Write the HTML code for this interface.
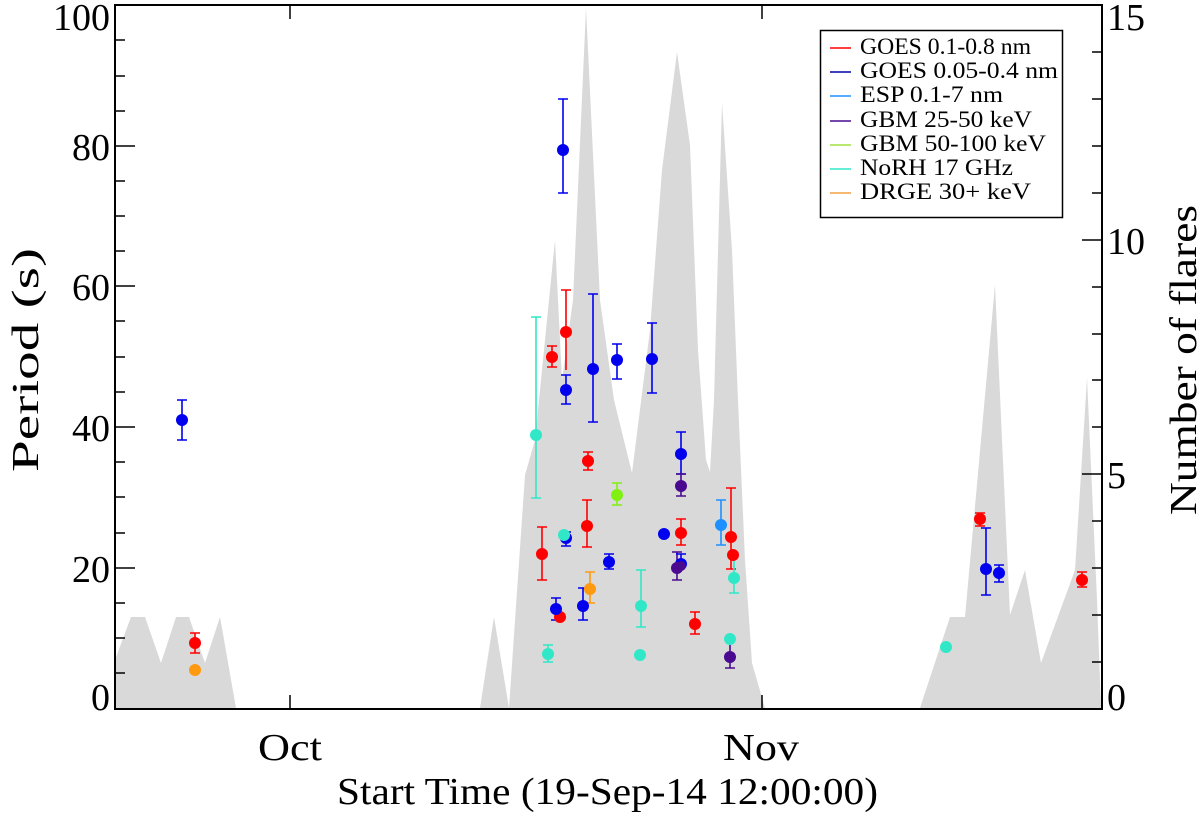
<!DOCTYPE html>
<html><head><meta charset="utf-8"><style>
html,body{margin:0;padding:0;background:#fff;}
svg{display:block;font-family:"Liberation Serif",serif;}
</style></head><body>
<svg width="1200" height="815" viewBox="0 0 1200 815" xmlns="http://www.w3.org/2000/svg">
<g fill="#d9d9d9" stroke="none">
<polygon points="115,708 115,660 131,617 145,617 161,663 176,617 189,617 205,663 220,617 236,708"/>
<polygon points="480,708 494,617 509,708"/>
<polygon points="509,708 525,475 535,440 555,240 562,380 573,300 586,8 600,300 614,400 632,473 650,330 662,170 677,52 690,145 698,350 706,460 710,472 714,400 722,103 732,250 738,400 745,560 752,663 765,708"/>
<polygon points="920,708 950,617 965,617 995,285 1010,615 1025,570 1041,663 1075,570 1087,378 1097,600 1101,708"/>
</g>
<g stroke="#000" stroke-width="2" fill="none">
<rect x="115" y="5" width="987" height="704"/>
</g>
<g stroke="#000" stroke-width="1.5">
<line x1="115" y1="5" x2="135" y2="5"/><line x1="115" y1="146" x2="135" y2="146"/><line x1="115" y1="286" x2="135" y2="286"/><line x1="115" y1="427" x2="135" y2="427"/><line x1="115" y1="568" x2="135" y2="568"/>
<line x1="115" y1="40" x2="125" y2="40"/><line x1="115" y1="76" x2="125" y2="76"/><line x1="115" y1="111" x2="125" y2="111"/>
<line x1="115" y1="181" x2="125" y2="181"/><line x1="115" y1="216" x2="125" y2="216"/><line x1="115" y1="251" x2="125" y2="251"/>
<line x1="115" y1="321" x2="125" y2="321"/><line x1="115" y1="357" x2="125" y2="357"/><line x1="115" y1="392" x2="125" y2="392"/>
<line x1="115" y1="462" x2="125" y2="462"/><line x1="115" y1="497" x2="125" y2="497"/><line x1="115" y1="533" x2="125" y2="533"/>
<line x1="115" y1="603" x2="125" y2="603"/><line x1="115" y1="638" x2="125" y2="638"/><line x1="115" y1="673" x2="125" y2="673"/>
<line x1="1082" y1="240" x2="1102" y2="240"/><line x1="1082" y1="474" x2="1102" y2="474"/>
<line x1="1092" y1="52" x2="1102" y2="52"/><line x1="1092" y1="99" x2="1102" y2="99"/><line x1="1092" y1="146" x2="1102" y2="146"/><line x1="1092" y1="193" x2="1102" y2="193"/>
<line x1="1092" y1="287" x2="1102" y2="287"/><line x1="1092" y1="334" x2="1102" y2="334"/><line x1="1092" y1="380" x2="1102" y2="380"/><line x1="1092" y1="427" x2="1102" y2="427"/>
<line x1="1092" y1="521" x2="1102" y2="521"/><line x1="1092" y1="568" x2="1102" y2="568"/><line x1="1092" y1="615" x2="1102" y2="615"/><line x1="1092" y1="662" x2="1102" y2="662"/>
<line x1="290" y1="709" x2="290" y2="695"/><line x1="762" y1="709" x2="762" y2="695"/>
<line x1="290" y1="5" x2="290" y2="19"/><line x1="762" y1="5" x2="762" y2="19"/>
</g>
<g font-size="38" fill="#000" text-anchor="end">
<text x="110" y="30">100</text><text x="110" y="160">80</text><text x="110" y="300">60</text><text x="110" y="441">40</text><text x="110" y="582">20</text><text x="110" y="710">0</text>
</g>
<g font-size="38" fill="#000" text-anchor="start">
<text x="1107" y="30">15</text><text x="1107" y="254">10</text><text x="1107" y="488">5</text><text x="1107" y="710">0</text>
</g>
<g font-size="38" fill="#000">
<text x="258" y="760" textLength="64" lengthAdjust="spacingAndGlyphs">Oct</text>
<text x="723" y="760" textLength="76" lengthAdjust="spacingAndGlyphs">Nov</text>
<text x="337" y="804" font-size="38" textLength="541" lengthAdjust="spacingAndGlyphs">Start Time (19-Sep-14 12:00:00)</text>
</g>
<text font-size="38" transform="translate(38,472) rotate(-90)" textLength="224" lengthAdjust="spacingAndGlyphs">Period (s)</text>
<text font-size="38" transform="translate(1196,515) rotate(-90)" textLength="310" lengthAdjust="spacingAndGlyphs">Number of flares</text>

<g stroke-width="1.6" fill="none">
<path stroke="#0000ee" d="M182,400V440M177,400H187M177,440H187"/>
<path stroke="#ff0000" d="M195,633V653M190,633H200M190,653H200"/>
<path stroke="#30e8c8" d="M536,317V498M531,317H541M531,498H541"/>
<path stroke="#ff0000" d="M542,527V580M537,527H547M537,580H547"/>
<path stroke="#30e8c8" d="M548,645V662M543,645H553M543,662H553"/>
<path stroke="#ff0000" d="M552,346V367M547,346H557M547,367H557"/>
<path stroke="#0000ee" d="M556,598V620M551,598H561M551,620H561"/>
<path stroke="#0000ee" d="M563,99V193M558,99H568M558,193H568"/>
<path stroke="#0000ee" d="M566,375V404M561,375H571M561,404H571"/>
<path stroke="#0000ee" d="M566,532V546M561,532H571M561,546H571"/>
<path stroke="#ff0000" d="M566,290V370M561,290H571"/>
<path stroke="#0000ee" d="M583,588V620M578,588H588M578,620H588"/>
<path stroke="#ff0000" d="M587,500V547M582,500H592M582,547H592"/>
<path stroke="#ff0000" d="M588,452V470M583,452H593M583,470H593"/>
<path stroke="#ff9a10" d="M590,572V603M585,572H595M585,603H595"/>
<path stroke="#0000ee" d="M593,294V422M588,294H598M588,422H598"/>
<path stroke="#0000ee" d="M609,554V569M604,554H614M604,569H614"/>
<path stroke="#0000ee" d="M617,344V379M612,344H622M612,379H622"/>
<path stroke="#80f010" d="M617,483V505M612,483H622M612,505H622"/>
<path stroke="#30e8c8" d="M641,570V627M636,570H646M636,627H646"/>
<path stroke="#0000ee" d="M652,323V393M647,323H657M647,393H657"/>
<path stroke="#0000ee" d="M681,432V474M676,432H686M676,474H686"/>
<path stroke="#4a0a90" d="M681,474V496M676,474H686M676,496H686"/>
<path stroke="#ff0000" d="M681,519V545M676,519H686M676,545H686"/>
<path stroke="#4a0a90" d="M677,552V580M672,552H682M672,580H682"/>
<path stroke="#0000ee" d="M681,554V572M676,554H686"/>
<path stroke="#ff0000" d="M695,612V634M690,612H700M690,634H700"/>
<path stroke="#1e90ff" d="M721,500V545M716,500H726M716,545H726"/>
<path stroke="#4a0a90" d="M730,645V668M725,668H735"/>
<path stroke="#ff0000" d="M731,488V569M726,488H736M726,569H736"/>
<path stroke="#30e8c8" d="M734,560V593M729,593H739"/>
<path stroke="#ff0000" d="M980,513V526M975,513H985M975,526H985"/>
<path stroke="#0000ee" d="M986,528V595M981,528H991M981,595H991"/>
<path stroke="#0000ee" d="M999,565V582M994,565H1004M994,582H1004"/>
<path stroke="#ff0000" d="M1082,572V587M1077,572H1087M1077,587H1087"/>
</g>
<g stroke="none">
<circle cx="182" cy="420" r="6" fill="#0000ee"/>
<circle cx="195" cy="643" r="6" fill="#ff0000"/>
<circle cx="195" cy="670" r="6" fill="#ff9a10"/>
<circle cx="536" cy="435" r="6" fill="#30e8c8"/>
<circle cx="542" cy="554" r="6" fill="#ff0000"/>
<circle cx="548" cy="654" r="6" fill="#30e8c8"/>
<circle cx="552" cy="357" r="6" fill="#ff0000"/>
<circle cx="560" cy="617" r="6" fill="#ff0000"/>
<circle cx="556" cy="609" r="6" fill="#0000ee"/>
<circle cx="563" cy="150" r="6" fill="#0000ee"/>
<circle cx="566" cy="390" r="6" fill="#0000ee"/>
<circle cx="566" cy="538" r="6" fill="#0000ee"/>
<circle cx="564" cy="535" r="6" fill="#30e8c8"/>
<circle cx="566" cy="332" r="6" fill="#ff0000"/>
<circle cx="583" cy="606" r="6" fill="#0000ee"/>
<circle cx="587" cy="526" r="6" fill="#ff0000"/>
<circle cx="588" cy="461" r="6" fill="#ff0000"/>
<circle cx="590" cy="589" r="6" fill="#ff9a10"/>
<circle cx="593" cy="369" r="6" fill="#0000ee"/>
<circle cx="609" cy="562" r="6" fill="#0000ee"/>
<circle cx="617" cy="360" r="6" fill="#0000ee"/>
<circle cx="617" cy="495" r="6" fill="#80f010"/>
<circle cx="641" cy="606" r="6" fill="#30e8c8"/>
<circle cx="640" cy="655" r="6" fill="#30e8c8"/>
<circle cx="652" cy="359" r="6" fill="#0000ee"/>
<circle cx="664" cy="534" r="6" fill="#0000ee"/>
<circle cx="681" cy="454" r="6" fill="#0000ee"/>
<circle cx="681" cy="486" r="6" fill="#4a0a90"/>
<circle cx="681" cy="533" r="6" fill="#ff0000"/>
<circle cx="681" cy="564" r="6" fill="#0000ee"/>
<circle cx="677" cy="568" r="6" fill="#4a0a90"/>
<circle cx="681" cy="566" r="5" fill="#4a0a90"/>
<circle cx="695" cy="624" r="6" fill="#ff0000"/>
<circle cx="721" cy="525" r="6" fill="#1e90ff"/>
<circle cx="730" cy="657" r="6" fill="#4a0a90"/>
<circle cx="730" cy="639" r="6" fill="#30e8c8"/>
<circle cx="731" cy="537" r="6" fill="#ff0000"/>
<circle cx="733" cy="555" r="6" fill="#ff0000"/>
<circle cx="734" cy="578" r="6" fill="#30e8c8"/>
<circle cx="946" cy="647" r="6" fill="#30e8c8"/>
<circle cx="980" cy="519" r="6" fill="#ff0000"/>
<circle cx="986" cy="569" r="6" fill="#0000ee"/>
<circle cx="999" cy="573" r="6" fill="#0000ee"/>
<circle cx="1082" cy="580" r="6" fill="#ff0000"/>
</g>
<rect x="820.5" y="30.5" width="242" height="187" fill="#fff" stroke="#000" stroke-width="1.5"/>
<g stroke-width="1.5">
<line x1="830" y1="48" x2="851" y2="48" stroke="#ff0000"/>
<line x1="830" y1="72" x2="851" y2="72" stroke="#0000aa"/>
<line x1="830" y1="96" x2="851" y2="96" stroke="#1e90ff"/>
<line x1="830" y1="121" x2="851" y2="121" stroke="#4a0a90"/>
<line x1="830" y1="145" x2="851" y2="145" stroke="#a0e040"/>
<line x1="830" y1="169" x2="851" y2="169" stroke="#30e8c8"/>
<line x1="830" y1="193" x2="851" y2="193" stroke="#f0a040"/>
</g>
<g font-size="23" fill="#000" lengthAdjust="spacingAndGlyphs">
<text x="860" y="54" textLength="171" lengthAdjust="spacingAndGlyphs">GOES 0.1-0.8 nm</text>
<text x="860" y="78" textLength="198" lengthAdjust="spacingAndGlyphs">GOES 0.05-0.4 nm</text>
<text x="860" y="102" textLength="143" lengthAdjust="spacingAndGlyphs">ESP 0.1-7 nm</text>
<text x="860" y="127" textLength="172" lengthAdjust="spacingAndGlyphs">GBM 25-50 keV</text>
<text x="860" y="151" textLength="186" lengthAdjust="spacingAndGlyphs">GBM 50-100 keV</text>
<text x="860" y="175" textLength="153" lengthAdjust="spacingAndGlyphs">NoRH 17 GHz</text>
<text x="860" y="199" textLength="171" lengthAdjust="spacingAndGlyphs">DRGE 30+ keV</text>
</g>
</svg>
</body></html>
